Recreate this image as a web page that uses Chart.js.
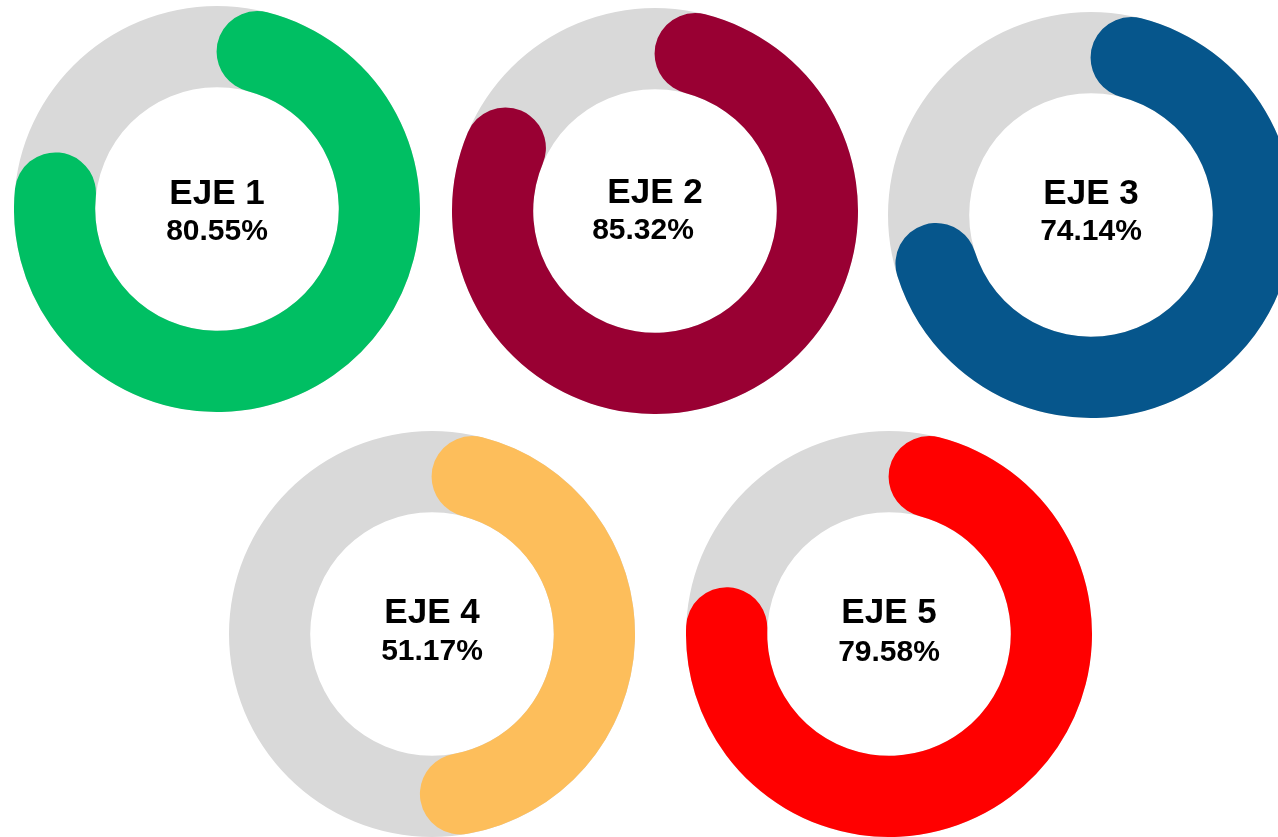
<!DOCTYPE html>
<html>
<head>
<meta charset="utf-8">
<script src="https://cdn.jsdelivr.net/npm/chart.js@4.4.1/dist/chart.umd.min.js"></script>
<style>
    html, body{
        margin: 0;
        padding: 0;
        width: 1278px;
        height: 837px;
        overflow: hidden;
        background: #ffffff;
    }
    canvas{
        position: absolute;
    }
</style>
</head>
<body>

<canvas id="eje1" width="406" height="406"></canvas>
<canvas id="eje2" width="406" height="406"></canvas>
<canvas id="eje3" width="406" height="406"></canvas>
<canvas id="eje4" width="406" height="406"></canvas>
<canvas id="eje5" width="406" height="406"></canvas>

<script>

// ================= DATA =================

const ejes = ['EJE 1', 'EJE 2', 'EJE 3', 'EJE 4', 'EJE 5'];
const avance = [80.55, 85.32, 74.14, 51.17, 79.58];
const colores = ['#00BF63', '#990033', '#06568C', '#FDBE5B', '#FF0000'];

const trackColor = '#D9D9D9';

// where each donut sits on the page + small label nudges
const layout = [
    { left: 14,  top: 6,   titleDy: -5,  pctDy: 31, pctDx: 0 },
    { left: 452, top: 8,   titleDy: -8,  pctDy: 28, pctDx: -12 },
    { left: 888, top: 12,  titleDy: -11, pctDy: 25, pctDx: 0 },
    { left: 229, top: 431, titleDy: -11, pctDy: 26, pctDx: 0 },
    { left: 686, top: 431, titleDy: -11, pctDy: 27, pctDx: 0 }
];


// ================= PLUGINS =================

// grey ring behind the coloured arc
const trackPlugin = {
    id: 'track',
    beforeDatasetsDraw(chart){
        const arc = chart.getDatasetMeta(0).data[0];
        if(!arc) return;
        const p = arc.getProps(['x', 'y', 'innerRadius', 'outerRadius'], true);
        const ctx = chart.ctx;
        ctx.save();
        ctx.beginPath();
        ctx.arc(p.x, p.y, p.outerRadius, 0, Math.PI * 2);
        ctx.arc(p.x, p.y, p.innerRadius, 0, Math.PI * 2, true);
        ctx.fillStyle = trackColor;
        ctx.fill();
        ctx.restore();
    }
};

// title + percentage in the hole
const centerText = {
    id: 'centerText',
    afterDatasetsDraw(chart, args, opts){
        const arc = chart.getDatasetMeta(0).data[0];
        const {x, y} = arc.getProps(['x', 'y'], true);
        const ctx = chart.ctx;
        ctx.save();
        ctx.fillStyle = '#000000';
        ctx.textAlign = 'center';
        ctx.textBaseline = 'alphabetic';

        ctx.font = 'bold 35px "Liberation Sans", Arial, sans-serif';
        ctx.fillText(opts.title, x, y + opts.titleDy);

        ctx.font = 'bold 30px "Liberation Sans", Arial, sans-serif';
        ctx.fillText(opts.pct, x + opts.pctDx, y + opts.pctDy);
        ctx.restore();
    }
};


// ================= CHARTS =================

function makeDonut(i){

    const el = document.getElementById('eje' + (i + 1));
    const pos = layout[i];

    el.style.left = pos.left + 'px';
    el.style.top = pos.top + 'px';

    const value = avance[i];

    new Chart(el, {
        type: 'doughnut',
        data: {
            labels: [ejes[i], ''],
            datasets: [{
                data: [value, 100 - value],
                backgroundColor: [colores[i], 'rgba(0,0,0,0)'],
                borderWidth: 0,
                borderRadius: [41, 0],
                hoverOffset: 0,
                offset: 0
            }]
        },
        options: {
            responsive: false,
            animation: false,
            cutout: '60%',
            rotation: 0,
            spacing: 0,
            layout: { padding: 0 },
            events: [],
            plugins: {
                legend: { display: false },
                tooltip: { enabled: false },
                centerText: {
                    title: ejes[i],
                    pct: value.toFixed(2) + '%',
                    titleDy: pos.titleDy,
                    pctDy: pos.pctDy,
                    pctDx: pos.pctDx
                }
            }
        },
        plugins: [trackPlugin, centerText]
    });
}

document.addEventListener('DOMContentLoaded', function(){
    for(let i = 0; i < ejes.length; i++){
        makeDonut(i);
    }
});

</script>
</body>
</html>
